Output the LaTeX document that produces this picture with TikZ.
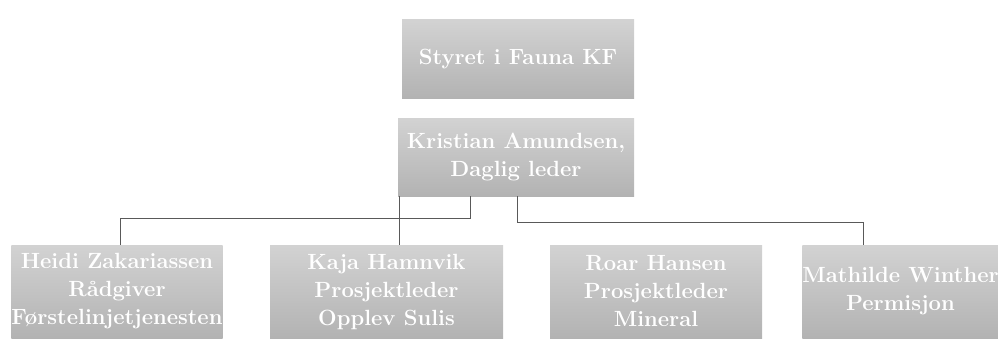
\documentclass[tikz,border=0pt]{standalone}
\usepackage{tikz}
\usetikzlibrary{positioning}

\begin{document}
\begin{tikzpicture}[x=1pt,y=-1pt,semithick,
    orgbox/.style={rectangle,top color=gray!35,bottom color=gray!60,
      text=white,font=\bfseries\fontsize{22}{28}\selectfont,align=center,
      inner sep=0pt},
    conn/.style={draw=gray!70!black,line width=0.6pt}]
  \useasboundingbox (0,0) rectangle (998,345);
  \node[orgbox,minimum width=232pt,minimum height=78pt] (board) at (518,59)
    {Styret i Fauna KF};
  \node[orgbox,minimum width=236pt,minimum height=78pt] (leader) at (516,157)
    {Kristian Amundsen,\\Daglig leder};
  \node[orgbox,minimum width=210pt,minimum height=93pt] (heidi) at (117,291.5)
    {Heidi Zakariassen\\R\aa dgiver\\F\o rstelinjetjenesten};
  \node[orgbox,minimum width=233pt,minimum height=93pt] (kaja) at (386.5,291.5)
    {Kaja Hamnvik\\Prosjektleder\\Opplev Sulis};
  \node[orgbox,minimum width=212pt,minimum height=93pt] (roar) at (656,291.5)
    {Roar Hansen\\Prosjektleder\\Mineral};
  \node[orgbox,minimum width=195pt,minimum height=93pt] (mathilde) at (900.5,291.5)
    {Mathilde Winther\\Permisjon};
  % branches under the leader box
  \coordinate (lj) at (470,218);
  \coordinate (rj) at (517,222);
  \draw[conn] ([xshift=2pt]leader.south west)
    -- ([xshift=2pt]leader.south west |- kaja.north);
  \draw[conn] (lj |- leader.south) -- (lj) -| ([xshift=3pt]heidi.north);
  \draw[conn] (rj |- leader.south) -- (rj) -| ([xshift=61pt]mathilde.north west);
\end{tikzpicture}
\end{document}
